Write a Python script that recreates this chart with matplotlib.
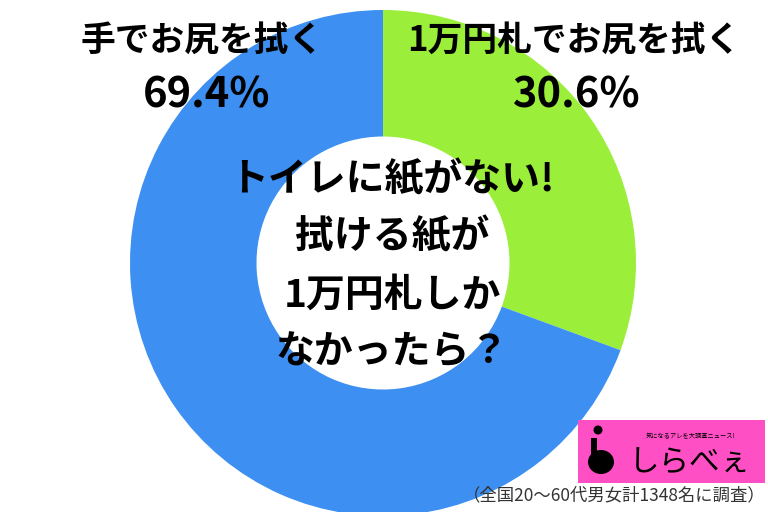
import matplotlib
matplotlib.use("Agg")
import matplotlib.pyplot as plt
from matplotlib.patches import Rectangle, Circle, Ellipse

plt.rcParams['font.family'] = ['Noto Sans CJK JP', 'DejaVu Sans']

# ---- data ----
categories = ["1万円札でお尻を拭く", "手でお尻を拭く"]
values = [30.6, 69.4]
value_labels = ["30.6%", "69.4%"]
colors = ["#9bef3a", "#3d8ff2"]
center_title = "トイレに紙がない!\n拭ける紙が\n1万円札しか\nなかったら？"
footnote = "（全国20～60代男女計1348名に調査）"
logo_tag = "気になるアレを大調査ニュース!"
logo_name = "しらべぇ"

W, H = 768, 512
fig = plt.figure(figsize=(W / 100, H / 100), dpi=100)
ax = fig.add_axes([0, 0, 1, 1])

cx, cy, R = 383, H - 263, 253
ax.pie(values, colors=colors, startangle=90, counterclock=False,
       center=(cx, cy), radius=R, frame=True,
       wedgeprops=dict(width=R * 0.5, linewidth=0))
ax.set_xlim(0, W)
ax.set_ylim(0, H)
ax.set_aspect('equal')
ax.axis('off')

# category labels
ax.text(202, H - 40, categories[1], ha='center', va='center', fontsize=25,
        fontweight='bold', color='black')
ax.text(207, H - 95, value_labels[1], ha='center', va='center', fontsize=30,
        fontweight='bold', color='black')
ax.text(574, H - 40, categories[0], ha='center', va='center', fontsize=25,
        fontweight='bold', color='black')
ax.text(577, H - 95, value_labels[0], ha='center', va='center', fontsize=30,
        fontweight='bold', color='black')

# center title
ax.text(392, H - 266, center_title, ha='center', va='center', fontsize=28,
        fontweight='bold', color='black', linespacing=1.6)

# footnote
ax.text(766, H - 495, footnote, ha='right', va='center', fontsize=12.5,
        color='#333333')

# logo
ax.add_patch(Rectangle((578, H - 483), 187, 63, facecolor='#ff4fc4',
                       edgecolor='none'))
ax.add_patch(Circle((598, H - 430), 4.5, facecolor='black'))
ax.add_patch(Ellipse((601, H - 462), 26, 24, facecolor='black'))
ax.add_patch(Rectangle((591, H - 462), 6, 24, facecolor='black'))
ax.text(690, H - 436, logo_tag, ha='center', va='center', fontsize=4.5,
        color='black')
ax.text(690, H - 463, logo_name, ha='center', va='center', fontsize=22,
        color='black')

fig.savefig("out.png", dpi=100)
